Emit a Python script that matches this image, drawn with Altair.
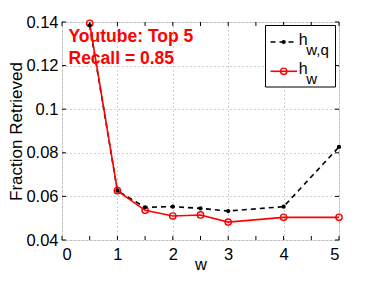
import altair as alt
import pandas as pd

# ---- data ----
w = [0.5, 1, 1.5, 2, 2.5, 3, 4, 5]
h_wq = [0.1385, 0.0626, 0.0550, 0.0553, 0.0545, 0.0533, 0.0553, 0.0827]
h_w = [0.1394, 0.0626, 0.0536, 0.0510, 0.0515, 0.0482, 0.0504, 0.0504]
x_ticks = [0, 0.5, 1, 1.5, 2, 2.5, 3, 3.5, 4, 4.5, 5]
y_ticks = [0.04, 0.06, 0.08, 0.10, 0.12, 0.14]
annot = ["Youtube: Top 5", "Recall = 0.85"]
legend_main = ["h", "h"]
legend_sub = ["w,q", "w"]

W, H = 277, 218
FONT = "Liberation Sans"

df_q = pd.DataFrame({"w": w, "v": h_wq})
df_w = pd.DataFrame({"w": w, "v": h_w})
df_xt = pd.DataFrame({"t": x_ticks})
df_yt = pd.DataFrame({"t": y_ticks})
one = pd.DataFrame({"a": [0]})

xs = alt.Scale(domain=[0, 5], nice=False, zero=False)
ys = alt.Scale(domain=[0.04, 0.14], nice=False, zero=False)

x_axis = alt.Axis(
    values=x_ticks,
    labelExpr="datum.value % 1 === 0 ? datum.label : ''",
    grid=True, gridDash=[1, 3], gridColor="#a0a0a0", gridWidth=1,
    ticks=False, domain=False,
    labelFont=FONT, labelFontSize=16.5, labelColor="black", labelPadding=6,
    title="w", titleFont=FONT, titleFontSize=16.5, titleFontWeight="normal",
    titleColor="black", titleX=W / 2, titleY=29, titleAlign="center",
    titleBaseline="alphabetic",
)
y_axis = alt.Axis(
    values=y_ticks,
    labelExpr="format(datum.value, '~g')",
    grid=True, gridDash=[1, 3], gridColor="#a0a0a0", gridWidth=1,
    ticks=False, domain=False,
    labelFont=FONT, labelFontSize=16.5, labelColor="black", labelPadding=4,
    title="Fraction Retrieved", titleFont=FONT, titleFontSize=17,
    titleFontWeight="normal", titleColor="black",
    titleX=-41, titleY=H / 2, titleAlign="center", titleBaseline="alphabetic",
)

base_q = alt.Chart(df_q).encode(
    x=alt.X("w:Q", scale=xs, axis=x_axis),
    y=alt.Y("v:Q", scale=ys, axis=y_axis),
)
line_q = base_q.mark_line(color="black", strokeDash=[5, 4], strokeWidth=1.6)
pts_q = base_q.mark_point(filled=True, color="black", size=18, opacity=1)

base_w = alt.Chart(df_w).encode(x=alt.X("w:Q", scale=xs), y=alt.Y("v:Q", scale=ys))
line_w = base_w.mark_line(color="#ff0000", strokeWidth=1.6)
pts_w = base_w.mark_point(filled=False, color="#ff0000", size=40, strokeWidth=1.4, opacity=1)

# inward ticks on all four sides
tk_b = alt.Chart(df_xt).mark_rule(color="black", strokeWidth=1).encode(
    x=alt.X("t:Q", scale=xs), y=alt.value(H), y2=alt.value(H - 4))
tk_t = alt.Chart(df_xt).mark_rule(color="black", strokeWidth=1).encode(
    x=alt.X("t:Q", scale=xs), y=alt.value(0), y2=alt.value(4))
tk_l = alt.Chart(df_yt).mark_rule(color="black", strokeWidth=1).encode(
    y=alt.Y("t:Q", scale=ys), x=alt.value(0), x2=alt.value(4))
tk_r = alt.Chart(df_yt).mark_rule(color="black", strokeWidth=1).encode(
    y=alt.Y("t:Q", scale=ys), x=alt.value(W), x2=alt.value(W - 4))

# annotation
txt1 = alt.Chart(one).mark_text(
    text=annot[0], font=FONT, fontSize=17.5, fontWeight="bold", color="#ff0000",
    align="left", baseline="alphabetic").encode(x=alt.value(6.5), y=alt.value(19.7))
txt2 = alt.Chart(one).mark_text(
    text=annot[1], font=FONT, fontSize=17.5, fontWeight="bold", color="#ff0000",
    align="left", baseline="alphabetic").encode(x=alt.value(6.5), y=alt.value(42.3))

# legend
lg_box = alt.Chart(one).mark_rect(fill="white", stroke="black", strokeWidth=1).encode(
    x=alt.value(203.5), x2=alt.value(273.5), y=alt.value(3.5), y2=alt.value(65))
lg_l1 = alt.Chart(one).mark_rule(color="black", strokeDash=[5, 4], strokeWidth=1.6).encode(
    x=alt.value(208.5), x2=alt.value(235), y=alt.value(20))
lg_p1 = alt.Chart(one).mark_point(filled=True, color="black", size=18, opacity=1).encode(
    x=alt.value(221.7), y=alt.value(20))
lg_l2 = alt.Chart(one).mark_rule(color="#ff0000", strokeWidth=1.6).encode(
    x=alt.value(208.5), x2=alt.value(235), y=alt.value(49.3))
lg_p2 = alt.Chart(one).mark_point(filled=False, color="#ff0000", size=40, strokeWidth=1.4, opacity=1).encode(
    x=alt.value(221.7), y=alt.value(49.3))

def ltext(s, x, y, size):
    return alt.Chart(one).mark_text(
        text=s, font=FONT, fontSize=size, color="black", align="left",
        baseline="alphabetic").encode(x=alt.value(x), y=alt.value(y))

lg_t = [
    ltext(legend_main[0], 236.8, 23.3, 16),
    ltext(legend_sub[0], 244.3, 33.3, 15),
    ltext(legend_main[1], 236.8, 51.7, 16),
    ltext(legend_sub[1], 244.3, 61.7, 15),
]

chart = alt.layer(
    line_q, line_w, pts_w, pts_q, tk_b, tk_t, tk_l, tk_r, txt1, txt2,
    lg_box, lg_l1, lg_p1, lg_l2, lg_p2, *lg_t
).properties(
    width=W, height=H,
    autosize=alt.AutoSizeParams(type="none"),
    padding={"left": 54, "top": 14, "right": 20, "bottom": 33},
).configure_view(stroke="black", strokeWidth=1).configure(background="white")

chart.save("out.html", embed_options={"renderer": "svg", "actions": False})
